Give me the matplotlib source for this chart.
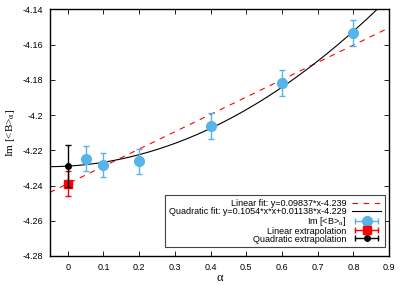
import numpy as np
import matplotlib
matplotlib.use("Agg")
import matplotlib.pyplot as plt
from matplotlib.lines import Line2D
from matplotlib.legend_handler import HandlerLine2D, HandlerTuple

plt.rcParams['font.family'] = ['Liberation Sans', 'DejaVu Sans']
plt.rcParams['mathtext.fontset'] = 'stix'

# data
alpha = [0.05, 0.1, 0.2, 0.4, 0.6, 0.8]
im_b = [-4.2247, -4.2283, -4.2262, -4.2063, -4.1820, -4.1537]
im_err = [0.0071, 0.0070, 0.0071, 0.0072, 0.0074, 0.0074]
lin_coef = [0.09837, -4.239]
quad_coef = [0.1054, 0.01138, -4.229]
lin_extrap, lin_extrap_err = -4.239, 0.007
quad_extrap, quad_extrap_err = -4.229, 0.012
xticks = [0, 0.1, 0.2, 0.3, 0.4, 0.5, 0.6, 0.7, 0.8, 0.9]
yticks = [-4.28, -4.26, -4.24, -4.22, -4.2, -4.18, -4.16, -4.14]

blue = '#56B4E9'
fig = plt.figure(figsize=(4.07, 2.85), dpi=100)
ax = fig.add_axes([0.1224, 0.1018, 0.8336, 0.8655])

xs = np.linspace(-0.05, 0.9, 300)
ax.plot(xs, np.polyval(lin_coef, xs), color='red', ls=(0, (5, 5)), lw=0.8, zorder=2)
ax.plot(xs, np.polyval(quad_coef, xs), color='black', lw=0.8, zorder=2)

ax.errorbar(alpha, im_b, yerr=im_err, fmt='o', color=blue, ms=7, elinewidth=1,
            capsize=2, capthick=1, zorder=3)
ax.errorbar([0], [lin_extrap], yerr=[lin_extrap_err], fmt='s', color='red', ms=6,
            elinewidth=1, capsize=2, capthick=1, zorder=4)
ax.errorbar([0], [quad_extrap], yerr=[quad_extrap_err], fmt='o', color='black', ms=4,
            elinewidth=1, capsize=2, capthick=1, zorder=5)

ax.set_xlim(-0.05, 0.9)
ax.set_ylim(-4.28, -4.14)
ax.set_xticks(xticks)
ax.set_xticklabels(['0', '0.1', '0.2', '0.3', '0.4', '0.5', '0.6', '0.7', '0.8', '0.9'])
ax.set_yticks(yticks)
ax.set_yticklabels(['-4.28', '-4.26', '-4.24', '-4.22', '-4.2', '-4.18', '-4.16', '-4.14'])
ax.tick_params(direction='in', length=3.5, width=0.6, labelsize=6.5, top=True, right=True, pad=5)
for s in ax.spines.values():
    s.set_linewidth(1.0)

ax.set_xlabel('α', fontsize=9, family='Liberation Serif', labelpad=0)
ax.set_ylabel(r'Im [<B>$_{\mathrm{α}}$]', fontsize=8, family='Liberation Serif', labelpad=4)


def err_handle(color, marker, ms):
    bar = Line2D([], [], color=color, lw=1, marker='|', ms=4, mew=1)
    mk = Line2D([], [], color=color, marker=marker, ms=ms, ls='none')
    return (bar, mk)

h_lin = Line2D([], [], color='red', ls=(0, (5, 5)), lw=0.8)
h_quad = Line2D([], [], color='black', lw=0.8)
h_im = err_handle(blue, 'o', 7)
h_le = err_handle('red', 's', 6)
h_qe = err_handle('black', 'o', 4)
hmap = {}
for h in (h_im, h_le, h_qe):
    hmap[h[0]] = HandlerLine2D(numpoints=2)
    hmap[h[1]] = HandlerLine2D(numpoints=1)
hmap[tuple] = HandlerTuple(ndivide=1)

labels = ['Linear fit: y=0.09837*x-4.239',
          'Quadratic fit: y=0.1054*x*x+0.01138*x-4.229',
          r'Im [<B>$_{\mathrm{α}}$]',
          'Linear extrapolation',
          'Quadratic extrapolation']
leg = ax.legend([h_lin, h_quad, h_im, h_le, h_qe], labels, loc='lower right',
                bbox_to_anchor=(1.0, 0.0175), markerfirst=False, fontsize=6.5,
                fancybox=False, framealpha=1, edgecolor='#444444', handlelength=3.2,
                labelspacing=-0.12, borderpad=0.4, handletextpad=0.6,
                handler_map=hmap)
leg.get_frame().set_linewidth(0.8)

fig.savefig('out.png', dpi=100)
